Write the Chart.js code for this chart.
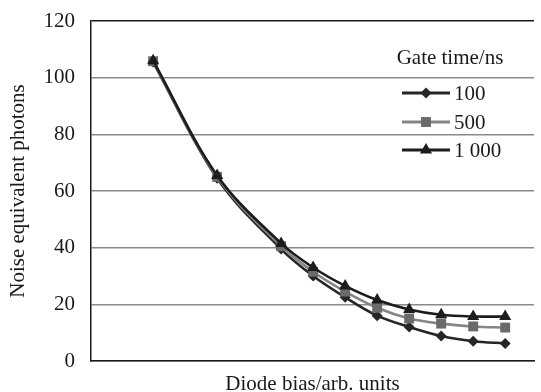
<!DOCTYPE html>
<html>
<head>
<meta charset="utf-8">
<script src="https://cdn.jsdelivr.net/npm/chart.js@4/dist/chart.umd.min.js"></script>
<style>
  html, body { margin: 0; padding: 0; background: #fff; overflow: hidden; }
  #wrap { position: relative; width: 541px; height: 392px; }
</style>
</head>
<body>
<div id="wrap"><canvas id="chart"></canvas></div>
<script>
'use strict';

// diode bias steps (arb. units) – first points are two steps apart
const biasSteps = [0, 2, 4, 5, 6, 7, 8, 9, 10, 11];
const gate100  = [105.5, 64.5, 39.5, 30, 22.5, 16, 12, 8.8, 7, 6.2];
const gate500  = [105.8, 65, 40.5, 31.5, 24.5, 18.8, 15, 13.2, 12.2, 11.8];
const gate1000 = [106, 65.5, 41.5, 33, 26.5, 21.5, 18.2, 16.3, 15.7, 15.7];
const seriesNames = ['100', '500', '1 000'];
const yTicks = [0, 20, 40, 60, 80, 100, 120];

const FONT = "'Liberation Serif', 'Times New Roman', serif";

function pts(ys) { return biasSteps.map((x, i) => ({ x: x, y: ys[i] })); }

const styles = [
  { line: '#262626', fill: '#262626', shape: 'rectRot', r: 5.5 },
  { line: '#858585', fill: '#6a6a6a', shape: 'rect', r: 7 },
  { line: '#1c1c1c', fill: '#1c1c1c', shape: 'triangle', r: 7 }
];

function drawMarker(ctx, shape, r, x, y) {
  ctx.beginPath();
  if (shape === 'rectRot') {
    ctx.moveTo(x, y - r); ctx.lineTo(x + r, y); ctx.lineTo(x, y + r); ctx.lineTo(x - r, y);
  } else if (shape === 'rect') {
    const s = Math.SQRT1_2 * r;
    ctx.rect(x - s, y - s, 2 * s, 2 * s);
  } else {
    ctx.moveTo(x, y - r);
    ctx.lineTo(x + r * 0.866, y + r * 0.5);
    ctx.lineTo(x - r * 0.866, y + r * 0.5);
  }
  ctx.closePath();
  ctx.fill();
}

// legend sits inside the plot, top right
const innerLegend = {
  id: 'innerLegend',
  afterDraw(chart) {
    const ctx = chart.ctx;
    ctx.save();
    ctx.font = '21px ' + FONT;
    ctx.fillStyle = '#1a1a1a';
    ctx.textBaseline = 'middle';
    ctx.textAlign = 'center';
    ctx.fillText('Gate time/ns', 450, 58);
    const rows = [93, 122, 150];
    rows.forEach((y, i) => {
      const s = styles[i];
      ctx.strokeStyle = s.line;
      ctx.lineWidth = 3;
      ctx.beginPath(); ctx.moveTo(402, y); ctx.lineTo(450, y); ctx.stroke();
      ctx.fillStyle = s.fill;
      drawMarker(ctx, s.shape, s.r, 426, y);
      ctx.fillStyle = '#1a1a1a';
      ctx.textAlign = 'left';
      ctx.fillText(seriesNames[i], 454, y + 1);
    });
    ctx.restore();
  }
};

const series = [gate100, gate500, gate1000];

new Chart(document.getElementById('chart'), {
  type: 'line',
  data: {
    datasets: series.map((ys, i) => ({
      label: seriesNames[i],
      data: pts(ys),
      borderColor: styles[i].line,
      backgroundColor: styles[i].fill,
      borderWidth: 2.6,
      pointStyle: styles[i].shape,
      pointRadius: styles[i].r,
      pointBorderWidth: 0,
      pointBackgroundColor: styles[i].fill,
      tension: 0.35,
      order: 3 - i
    }))
  },
  options: {
    responsive: true,
    maintainAspectRatio: false,
    animation: false,
    layout: { padding: { left: 0, right: 0, top: 21, bottom: 0 } },
    plugins: { legend: { display: false }, tooltip: { enabled: false } },
    scales: {
      x: {
        type: 'linear',
        min: -1.94,
        max: 11.9,
        grid: { display: false, drawTicks: false },
        border: { color: '#1a1a1a', width: 1.5 },
        ticks: { display: false },
        title: {
          display: true, text: 'Diode bias/arb. units', color: '#1a1a1a',
          font: { family: FONT, size: 21, lineHeight: 1 }, padding: { top: 0, bottom: -3 }
        },
        afterFit(scale) { scale.height = 31; scale.paddingLeft = 0; scale.paddingRight = 0; }
      },
      y: {
        min: 0,
        max: 120,
        afterBuildTicks(scale) { scale.ticks = yTicks.map(v => ({ value: v })); },
        grid: {
          drawTicks: false,
          color: ctx => ctx.tick && ctx.tick.value === 120 ? '#1a1a1a' : '#8a8a8a',
          lineWidth: 1.4
        },
        border: { color: '#1a1a1a', width: 1.5 },
        ticks: { color: '#1a1a1a', padding: 16, font: { family: FONT, size: 21 } },
        title: {
          display: true, text: 'Noise equivalent photons', color: '#1a1a1a',
          font: { family: FONT, size: 21 }, padding: { top: 6, bottom: 0 }
        },
        afterFit(scale) { scale.width = 91; scale.paddingTop = 0; scale.paddingBottom = 0; }
      }
    }
  },
  plugins: [innerLegend]
});
</script>
</body>
</html>
